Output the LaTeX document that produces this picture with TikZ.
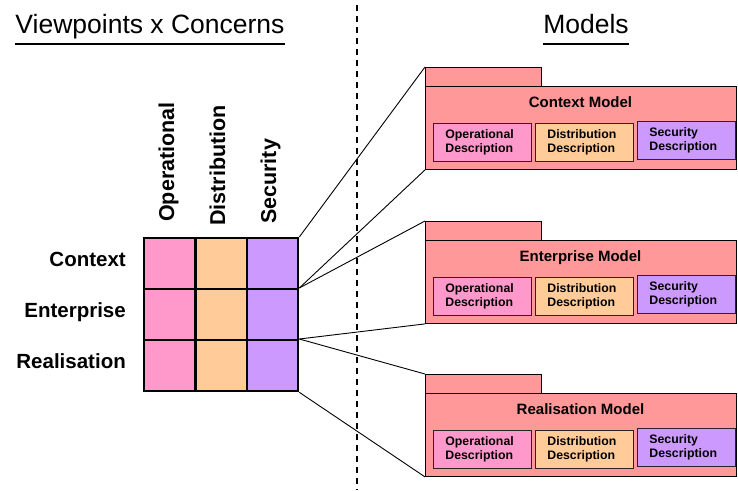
\documentclass[tikz,border=0pt]{standalone}
\usepackage{fontspec}
\setmainfont{Liberation Sans}
\definecolor{oppink}{HTML}{FF99CC}
\definecolor{dipeach}{HTML}{FFCC99}
\definecolor{selav}{HTML}{CC99FF}
\definecolor{pkgred}{HTML}{FF9999}
\begin{document}
\begin{tikzpicture}[x=1pt,y=-1pt,
  cell/.style={draw, line width=2.3pt, minimum width=51.33pt, minimum height=51pt, inner sep=0pt, anchor=north west},
  pkgpart/.style={draw, line width=0.9pt, fill=pkgred, inner sep=0pt, anchor=north west},
  desc/.style={draw=black!85, line width=0.8pt, anchor=north west, minimum width=98pt, minimum height=38pt,
     inner xsep=12pt, inner ysep=0pt, text width=74pt, align=left, font=\fontsize{12.3}{13.5}\selectfont\bfseries},
  pkgtitle/.style={anchor=base, inner sep=0pt, font=\fontsize{15}{17}\selectfont\bfseries},
  rowlab/.style={anchor=base east, inner sep=0pt, font=\fontsize{20.5}{22}\selectfont\bfseries},
  collab/.style={anchor=base west, rotate=90, inner sep=0pt, font=\fontsize{21.5}{23}\selectfont\bfseries},
  header/.style={anchor=base, inner sep=0pt, font=\fontsize{26.5}{28}\selectfont},
  uline/.style={line width=2pt},
  conn/.style={line width=0.9pt},
  divider/.style={line width=2.2pt, dash pattern=on 6pt off 5pt}]
\useasboundingbox (0,0) rectangle (738,490);

% headers
\node[header] (vp) at (150,33) {Viewpoints x Concerns};
\draw[uline] ([yshift=-10.5pt]vp.base west) -- ([yshift=-10.5pt]vp.base east);
\node[header] (mo) at (586,33) {Models};
\draw[uline] ([yshift=-10.5pt]mo.base west) -- ([yshift=-10.5pt]mo.base east);

% divider
\coordinate (dtop) at (357,5);
\coordinate (dbot) at (357,490);
\draw[divider] (dtop) -- (dbot);

% grid
\foreach \r/\yy in {1/237,2/288,3/339}{
  \node[cell, fill=oppink] (c\r1) at (143,\yy) {};
  \node[cell, fill=dipeach] (c\r2) at (194.33,\yy) {};
  \node[cell, fill=selav] (c\r3) at (245.67,\yy) {};
}

% column labels
\node[collab] (colop) at (174,222) {Operational};
\node[collab] (coldi) at (225,226) {Distribution};
\node[collab] (colse) at (276,224) {Security};

% row labels
\node[rowlab] (rowctx) at (126,266) {Context};
\node[rowlab] (rowent) at (126,317) {Enterprise};
\node[rowlab] (rowrea) at (126,368) {Realisation};

% packages
\foreach \n/\t/\top in {ctx/Context/67,ent/Enterprise/221,rea/Realisation/374}{
  \node[pkgpart, minimum width=116pt, minimum height=19pt] (\n tab) at (425,\top) {};
  \node[pkgpart, minimum width=311pt, minimum height=83pt] (\n main) at (425,\top+19) {};
  \node[pkgtitle] (\n title) at (580.5,\top+40.5) {\t{} Model};
  \node[desc, fill=oppink] (\n op) at (433,\top+56) {Operational\\Description};
  \node[desc, fill=dipeach] (\n di) at (535,\top+56) {Distribution\\Description};
  \node[desc, fill=selav] (\n se) at (637,\top+54) {Security\\Description};
}

% connectors
\draw[conn] (c13.north east) -- (ctxtab.north west);
\draw[conn] (c23.north east) -- (ctxmain.south west);
\draw[conn] (c23.north east) -- (enttab.north west);
\draw[conn] (c33.north east) -- (entmain.south west);
\draw[conn] (c33.north east) -- (reatab.north west);
\draw[conn] (c33.south east) -- (reamain.south west);
\end{tikzpicture}
\end{document}
